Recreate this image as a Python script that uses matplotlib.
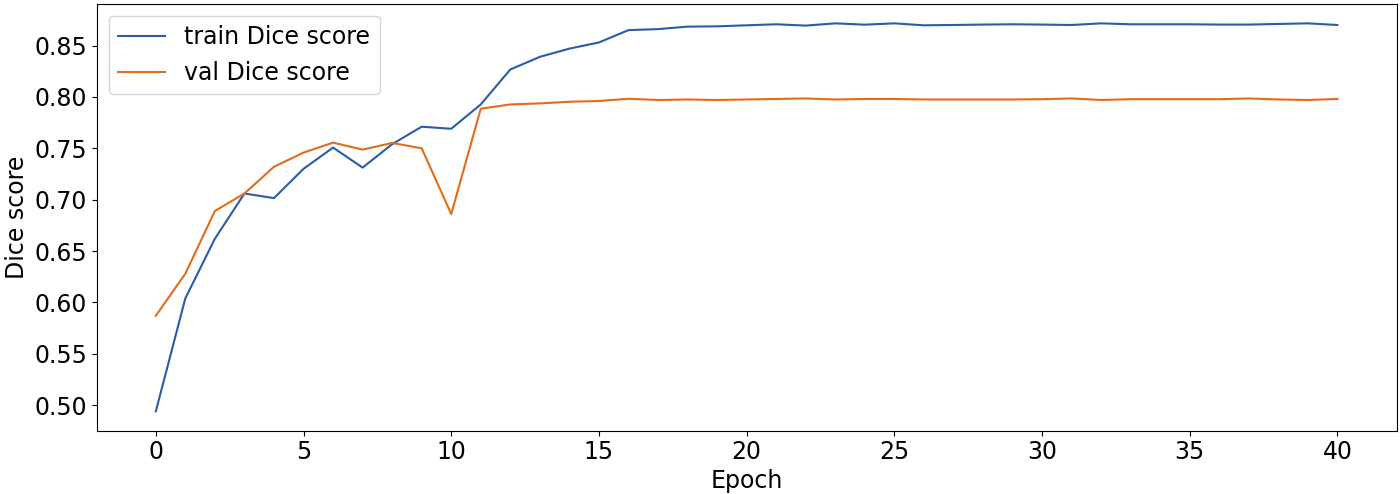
import matplotlib
matplotlib.use("Agg")
import matplotlib.pyplot as plt
import numpy as np

epochs = list(range(41))
train_dice = [0.494, 0.604, 0.662, 0.706, 0.7015, 0.730, 0.7507, 0.7312, 0.754, 0.771,
              0.769, 0.7927, 0.8267, 0.839, 0.847, 0.853, 0.865, 0.866, 0.8684, 0.8687,
              0.8697, 0.8707, 0.8694, 0.8716, 0.8703, 0.8716, 0.8697, 0.870, 0.8704, 0.8707,
              0.8704, 0.870, 0.8716, 0.8707, 0.8707, 0.8707, 0.8704, 0.8704, 0.871, 0.8716,
              0.870]
val_dice = [0.587, 0.628, 0.689, 0.706, 0.732, 0.7458, 0.7555, 0.7487, 0.7552, 0.750,
            0.686, 0.7885, 0.7927, 0.7937, 0.7953, 0.796, 0.7982, 0.797, 0.7975, 0.797,
            0.7975, 0.798, 0.7985, 0.7975, 0.798, 0.798, 0.7975, 0.7975, 0.7975, 0.7975,
            0.7978, 0.7985, 0.797, 0.7978, 0.7978, 0.7978, 0.7978, 0.7985, 0.7975, 0.797,
            0.798]
x_ticks = [0, 5, 10, 15, 20, 25, 30, 35, 40]
y_ticks = [0.50, 0.55, 0.60, 0.65, 0.70, 0.75, 0.80, 0.85]

plt.rcParams['font.family'] = ['DejaVu Sans']
plt.rcParams['font.size'] = 17

fig = plt.figure(figsize=(14, 4.94), dpi=100)
ax = fig.add_axes([0.0691, 0.1281, 0.9284, 0.8639])
ax.plot(epochs, train_dice, color='#2a5caa', lw=1.5, label='train Dice score')
ax.plot(epochs, val_dice, color='#e36c1a', lw=1.5, label='val Dice score')
ax.set_xlabel('Epoch', labelpad=3)
ax.set_ylabel('Dice score')
ax.set_xticks(x_ticks)
ax.set_yticks(y_ticks)
ax.set_yticklabels([f"{v:.2f}" for v in y_ticks])
ax.legend(loc='upper left')
fig.savefig('out.png', dpi=100)
